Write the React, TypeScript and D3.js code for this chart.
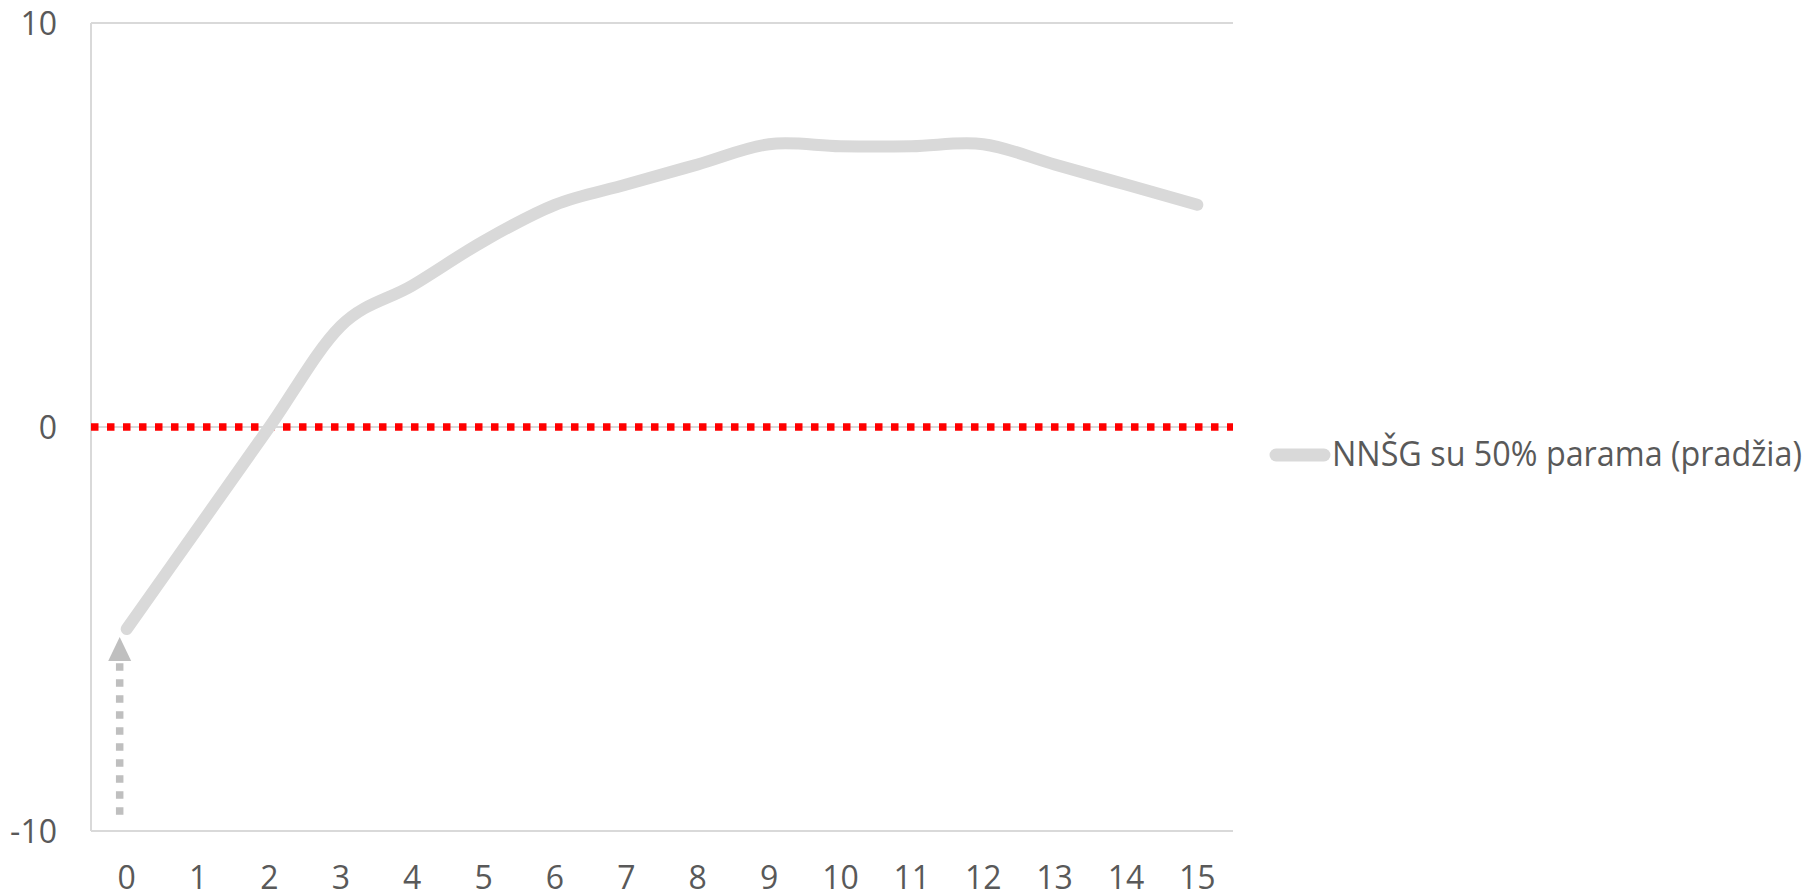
import React, { useRef, useEffect } from "react";
import * as d3 from "d3";

// x categories (years) and series values
const categories: string[] = ["0", "1", "2", "3", "4", "5", "6", "7", "8", "9", "10", "11", "12", "13", "14", "15"];
const seriesValues: number[] = [-5, -2.5, 0, 2.5, 3.5, 4.6, 5.5, 6, 6.5, 7, 6.95, 6.95, 7, 6.5, 6, 5.5];
const seriesName = "NNŠG su 50% parama (pradžia)";
const yTicks: number[] = [-10, 0, 10];
const referenceValue = 0;
// dotted arrow pointing at the starting value
const arrowFrom = -9.6;
const arrowTo = -5.2;

const WIDTH = 1819;
const HEIGHT = 894;

const App: React.FC = () => {
    const chartRef = useRef<SVGSVGElement>(null);

    useEffect(() => {
        if (!chartRef.current) return;
        document.body.style.margin = "0";

        const svg = d3.select(chartRef.current);
        svg.selectAll("*").remove();

        const font = "'Open Sans', sans-serif";
        const textColor = "#595959";

        const x = d3.scaleBand<string>()
            .domain(categories)
            .range([91, 1233])
            .padding(0);
        const cx = (c: string) => (x(c) || 0) + x.bandwidth() / 2;

        const y = d3.scaleLinear()
            .domain([-10, 10])
            .range([831, 23]);

        // gridlines
        svg.append("g")
            .selectAll("line")
            .data(yTicks)
            .enter()
            .append("line")
            .attr("x1", 91)
            .attr("x2", 1233)
            .attr("y1", d => y(d))
            .attr("y2", d => y(d))
            .attr("stroke", "#D9D9D9")
            .attr("stroke-width", 2);

        // vertical axis line
        svg.append("line")
            .attr("x1", 91)
            .attr("x2", 91)
            .attr("y1", y(10))
            .attr("y2", y(-10))
            .attr("stroke", "#D9D9D9")
            .attr("stroke-width", 2);

        // y tick labels
        svg.append("g")
            .selectAll("text")
            .data(yTicks)
            .enter()
            .append("text")
            .attr("x", 57)
            .attr("y", d => y(d))
            .attr("dy", "0.36em")
            .attr("text-anchor", "end")
            .style("font-family", font)
            .style("font-size", "32px")
            .style("fill", textColor)
            .text(d => String(d));

        // x tick labels
        svg.append("g")
            .selectAll("text")
            .data(categories)
            .enter()
            .append("text")
            .attr("x", d => cx(d))
            .attr("y", 877)
            .attr("dy", "0.36em")
            .attr("text-anchor", "middle")
            .style("font-family", font)
            .style("font-size", "32px")
            .style("fill", textColor)
            .text(d => d);

        // red dotted reference line
        svg.append("line")
            .attr("x1", 91)
            .attr("x2", 1233)
            .attr("y1", y(referenceValue))
            .attr("y2", y(referenceValue))
            .attr("stroke", "#FF0000")
            .attr("stroke-width", 7.5)
            .attr("stroke-dasharray", "7.5 8.5");

        // dotted arrow
        const ax = cx(categories[0]) - 7;
        const tipY = y(arrowTo);
        const baseY = tipY + 24;
        svg.append("line")
            .attr("x1", ax)
            .attr("x2", ax)
            .attr("y1", y(arrowFrom))
            .attr("y2", baseY)
            .attr("stroke", "#BFBFBF")
            .attr("stroke-width", 7.5)
            .attr("stroke-dasharray", "7.5 8.5");
        svg.append("path")
            .attr("d", `M${ax},${tipY} L${ax + 11.5},${baseY} L${ax - 11.5},${baseY} Z`)
            .attr("fill", "#BFBFBF");

        // smoothed series line
        const line = d3.line<number>()
            .x((_, i) => cx(categories[i]))
            .y(d => y(d))
            .curve(d3.curveCardinal.tension(0));

        svg.append("path")
            .datum(seriesValues)
            .attr("d", line)
            .attr("fill", "none")
            .attr("stroke", "#D9D9D9")
            .attr("stroke-width", 12)
            .attr("stroke-linecap", "round")
            .attr("stroke-linejoin", "round");

        // legend
        svg.append("line")
            .attr("x1", 1276)
            .attr("x2", 1324)
            .attr("y1", 455)
            .attr("y2", 455)
            .attr("stroke", "#D9D9D9")
            .attr("stroke-width", 13)
            .attr("stroke-linecap", "round");

        svg.append("text")
            .attr("x", 1332)
            .attr("y", 466)
            .attr("textLength", 470)
            .attr("lengthAdjust", "spacingAndGlyphs")
            .style("font-family", font)
            .style("font-size", "35px")
            .style("fill", textColor)
            .text(seriesName);
    }, []);

    return (
        <svg
            ref={chartRef}
            width={WIDTH}
            height={HEIGHT}
            style={{ position: "absolute", left: 0, top: 0, display: "block", background: "#fff" }}
        />
    );
};

export default App;
